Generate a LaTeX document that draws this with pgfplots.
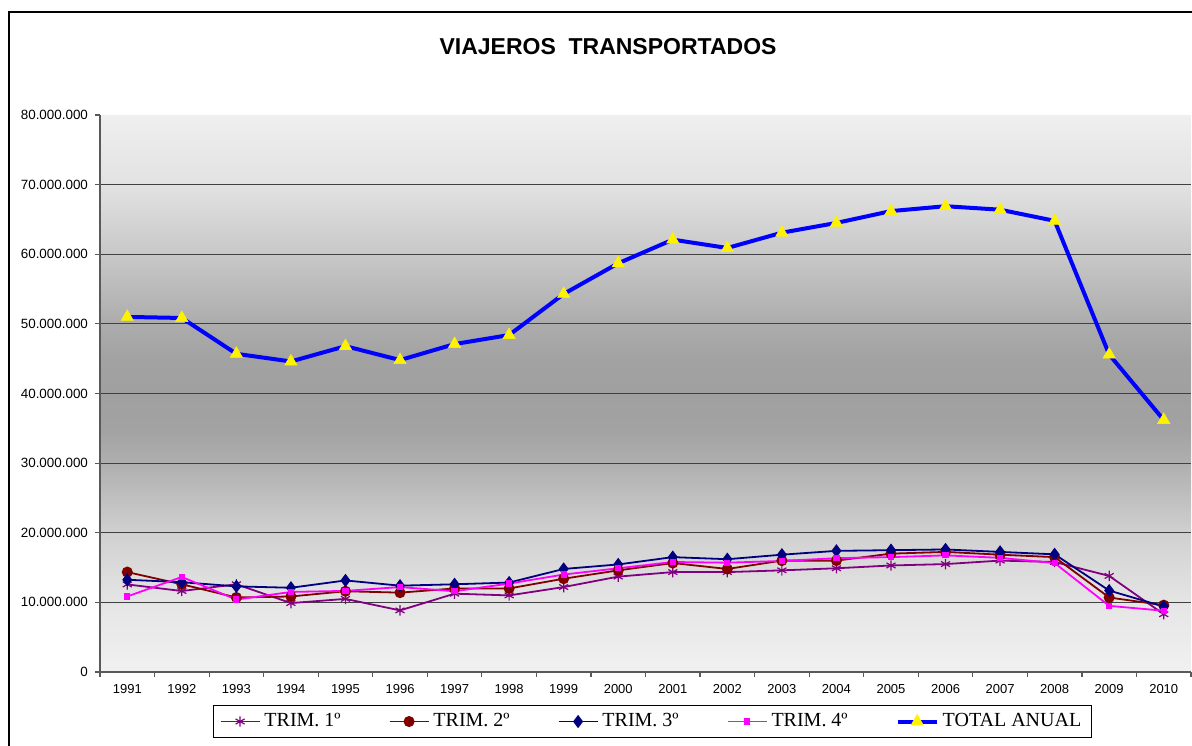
\documentclass[border=0pt]{standalone}
\usepackage{fontspec}
\setmainfont{Liberation Sans}
\newfontfamily\tnr{Liberation Serif}
\usepackage{pgfplots}
\pgfplotsset{compat=1.18}
\definecolor{c1}{HTML}{800080}
\definecolor{c2}{HTML}{800000}
\definecolor{c3}{HTML}{000080}
\definecolor{c4}{HTML}{FF00FF}
\definecolor{c5}{HTML}{0000FF}
\definecolor{g0}{HTML}{F1F1F1}
\definecolor{g10}{HTML}{E5E5E5}
\definecolor{g20}{HTML}{D0D0D0}
\definecolor{g30}{HTML}{AFAFAF}
\definecolor{g35}{HTML}{A2A2A2}
\definecolor{g40}{HTML}{A0A0A0}
\definecolor{g45}{HTML}{A2A2A2}
\definecolor{g50}{HTML}{ACACAC}
\definecolor{g60}{HTML}{C8C8C8}
\definecolor{g70}{HTML}{E2E2E2}
\definecolor{g80}{HTML}{EFEFEF}
\pgfdeclareverticalshading{plotbg}{100bp}{color(0bp)=(g0); color(25bp)=(g0); color(31.25bp)=(g10); color(37.5bp)=(g20); color(43.75bp)=(g30); color(46.875bp)=(g35); color(50bp)=(g40); color(53.125bp)=(g45); color(56.25bp)=(g50); color(62.5bp)=(g60); color(68.75bp)=(g70); color(75bp)=(g80); color(100bp)=(g80)}
\begin{document}
\begin{tikzpicture}
\path[use as bounding box, clip] (0,0) rectangle (596pt,372.5pt);
\draw[line width=0.75pt] (4.5pt,-5pt) -- (4.5pt,366.5pt) -- (600pt,366.5pt);
\node[font=\bfseries\fontsize{11.5pt}{14pt}\selectfont] at (304pt,349pt) {VIAJEROS\ \ TRANSPORTADOS};
\begin{axis}[
  at={(50pt,36.5pt)}, anchor=south west,
  scale only axis, width=545.5pt, height=278.5pt,
  xmin=-0.5, xmax=19.5, ymin=0, ymax=80000000,
  axis background/.style={shading=plotbg},
  axis x line*=bottom, axis y line*=left,
  axis line style={black!65, line width=0.7pt},
  xtick={-0.5,0.5,1.5,2.5,3.5,4.5,5.5,6.5,7.5,8.5,9.5,10.5,11.5,12.5,13.5,14.5,15.5,16.5,17.5,18.5,19.5},
  xticklabels={1991,1992,1993,1994,1995,1996,1997,1998,1999,2000,2001,2002,2003,2004,2005,2006,2007,2008,2009,2010},
  x tick label as interval,
  ytick={10000000,20000000,30000000,40000000,50000000,60000000,70000000},
  yticklabels={10.000.000,20.000.000,30.000.000,40.000.000,50.000.000,60.000.000,70.000.000},
  extra y ticks={0,80000000},
  extra y tick labels={0,80.000.000},
  extra y tick style={grid=none},
  scaled y ticks=false,
  ymajorgrids,
  major grid style={black!75, line width=0.6pt},
  tick align=outside, major tick length=2.5pt,
  tick style={black!65, line width=0.6pt},
  x tick label style={font=\fontsize{6.5pt}{8pt}\selectfont},
  y tick label style={font=\fontsize{6.7pt}{8pt}\selectfont},
  legend style={at={(0.5064,-0.0889)}, anchor=center, legend columns=-1, draw=black,
    font=\tnr\fontsize{10pt}{12pt}\selectfont,
    /tikz/every even column/.append style={column sep=22pt}},
  legend image code/.code={\draw[mark repeat=2,mark phase=2,#1] plot coordinates {(0pt,0pt) (9.75pt,0pt) (19.5pt,0pt)};},
]
\addplot[c1, line width=0.9pt, mark=asterisk, mark size=2.6pt, mark options={line width=0.6pt}] coordinates {
(0,12580000) (1,11630000) (2,12600000) (3,9900000) (4,10500000) (5,8850000) (6,11250000) (7,11000000) (8,12200000) (9,13700000)
(10,14350000) (11,14350000) (12,14600000) (13,14900000) (14,15300000) (15,15500000) (16,16000000) (17,15800000) (18,13800000) (19,8300000)};
\addlegendentry{TRIM. 1º}
\addplot[c2, line width=0.9pt, mark=*, mark size=2.3pt] coordinates {
(0,14350000) (1,12600000) (2,10700000) (3,10850000) (4,11600000) (5,11400000) (6,12000000) (7,12000000) (8,13400000) (9,14600000)
(10,15650000) (11,14800000) (12,16000000) (13,16000000) (14,17000000) (15,17250000) (16,16850000) (17,16500000) (18,10700000) (19,9600000)};
\addlegendentry{TRIM. 2º}
\addplot[c3, line width=0.9pt, mark=diamond*, mark size=2.6pt] coordinates {
(0,13250000) (1,12900000) (2,12300000) (3,12100000) (4,13150000) (5,12400000) (6,12600000) (7,12850000) (8,14800000) (9,15450000)
(10,16500000) (11,16200000) (12,16850000) (13,17400000) (14,17500000) (15,17600000) (16,17250000) (17,16900000) (18,11700000) (19,9400000)};
\addlegendentry{TRIM. 3º}
\addplot[c4, line width=0.9pt, mark=square*, mark size=1.1pt] coordinates {
(0,10850000) (1,13650000) (2,10400000) (3,11500000) (4,11650000) (5,12200000) (6,11600000) (7,12700000) (8,14000000) (9,14900000)
(10,15800000) (11,15700000) (12,15950000) (13,16350000) (14,16500000) (15,16750000) (16,16400000) (17,15650000) (18,9500000) (19,8800000)};
\addlegendentry{TRIM. 4º}
\addplot[c5, line width=2pt, mark=triangle*, mark size=3.6pt, mark options={fill=yellow, draw=yellow, line width=0.2pt}] coordinates {
(0,51000000) (1,50850000) (2,45700000) (3,44600000) (4,46800000) (5,44800000) (6,47100000) (7,48400000) (8,54300000) (9,58700000)
(10,62100000) (11,60900000) (12,63100000) (13,64500000) (14,66200000) (15,66900000) (16,66400000) (17,64800000) (18,45600000) (19,36200000)};
\addlegendentry{TOTAL ANUAL}
\end{axis}
\end{tikzpicture}
\end{document}
